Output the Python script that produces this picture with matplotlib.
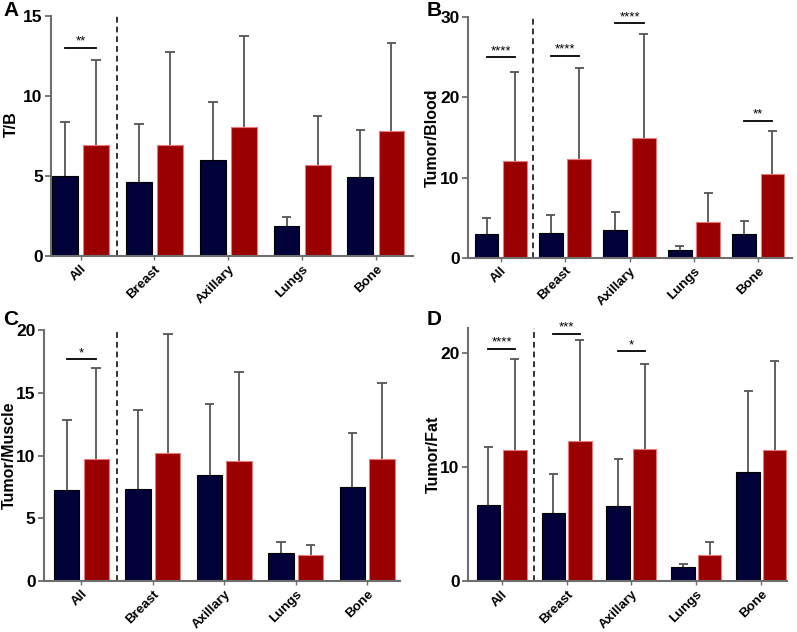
import matplotlib
matplotlib.use("Agg")
import matplotlib.pyplot as plt
import numpy as np

plt.rcParams['font.family'] = ['Liberation Sans', 'DejaVu Sans']

categories = ["All", "Breast", "Axillary", "Lungs", "Bone"]

# Panel A: T/B
a_blue_mean = [5.0, 4.65, 5.98, 1.9, 4.95]
a_blue_sd = [3.35, 3.62, 3.66, 0.56, 2.9]
a_red_mean = [6.9, 6.95, 8.04, 5.67, 7.8]
a_red_sd = [5.35, 5.78, 5.69, 3.06, 5.5]
a_sig = [(0, 13.0, "**")]

# Panel B: Tumor/Blood
b_blue_mean = [3.0, 3.15, 3.52, 1.03, 2.95]
b_blue_sd = [1.94, 2.2, 2.17, 0.5, 1.65]
b_red_mean = [12.04, 12.3, 14.9, 4.52, 10.4]
b_red_sd = [11.16, 11.3, 13.0, 3.53, 5.45]
b_sig = [(0, 25.0, "****"), (1, 25.2, "****"), (2, 29.2, "****"), (4, 17.1, "**")]

# Panel C: Tumor/Muscle
c_blue_mean = [7.25, 7.33, 8.47, 2.26, 7.52]
c_blue_sd = [5.58, 6.3, 5.66, 0.82, 4.3]
c_red_mean = [9.75, 10.22, 9.53, 2.07, 9.7]
c_red_sd = [7.25, 9.46, 7.1, 0.83, 6.08]
c_sig = [(0, 17.7, "*")]

# Panel D: Tumor/Fat
d_blue_mean = [6.64, 5.97, 6.55, 1.25, 9.58]
d_blue_sd = [5.12, 3.4, 4.13, 0.29, 7.1]
d_red_mean = [11.5, 12.29, 11.59, 2.33, 11.5]
d_red_sd = [7.95, 8.87, 7.45, 1.1, 7.83]
d_sig = [(0, 20.4, "****"), (1, 21.7, "***"), (2, 20.15, "*")]

BLUE = "#02023a"
RED = "#9b0000"
SPINE = "#6e6e6e"
ERR = "#555555"

fig = plt.figure(figsize=(7.97, 6.32), dpi=100)

panels = [
    dict(rect=[0.064, 0.595, 0.454, 0.380], bm=a_blue_mean, bs=a_blue_sd, rm=a_red_mean, rs=a_red_sd,
         sig=a_sig, ylabel="T/B", ylim=15, yticks=[0, 5, 10, 15], xlim=(-0.40, 4.5),
         w=0.35, off=0.21, letter="A", lxy=(0.004, 0.984), labx=-0.11, laby=0.55),
    dict(rect=[0.587, 0.592, 0.4065, 0.381], bm=b_blue_mean, bs=b_blue_sd, rm=b_red_mean, rs=b_red_sd,
         sig=b_sig, ylabel="Tumor/Blood", ylim=30, yticks=[0, 10, 20, 30], xlim=(-0.51, 4.52),
         w=0.37, off=0.22, letter="B", lxy=(0.535, 0.984), labx=-0.108, laby=0.5),
    dict(rect=[0.0552, 0.0807, 0.4467, 0.397], bm=c_blue_mean, bs=c_blue_sd, rm=c_red_mean, rs=c_red_sd,
         sig=c_sig, ylabel="Tumor/Muscle", ylim=20, yticks=[0, 5, 10, 15, 20], xlim=(-0.525, 4.46),
         w=0.357, off=0.207, letter="C", lxy=(0.004, 0.495), labx=-0.098, laby=0.5),
    dict(rect=[0.587, 0.0805, 0.400, 0.4005], bm=d_blue_mean, bs=d_blue_sd, rm=d_red_mean, rs=d_red_sd,
         sig=d_sig, ylabel="Tumor/Fat", ylim=22.2, yticks=[0, 10, 20], xlim=(-0.52, 4.39),
         w=0.362, off=0.204, letter="D", lxy=(0.535, 0.495), labx=-0.108, laby=0.5),
]


def upper_errorbars(ax, xs, means, sds, capw):
    means = np.asarray(means)
    tops = means + np.asarray(sds)
    ax.vlines(xs, means, tops, color=ERR, linewidth=1.3, zorder=1)
    ax.hlines(tops, xs - capw, xs + capw, color=ERR, linewidth=1.3, zorder=1)


for p in panels:
    ax = fig.add_axes(p["rect"])
    x = np.arange(len(categories))
    xb = x - p["off"]
    xr = x + p["off"]
    capw = p["w"] * 0.19
    upper_errorbars(ax, xb, p["bm"], p["bs"], capw)
    upper_errorbars(ax, xr, p["rm"], p["rs"], capw)
    ax.bar(xb, p["bm"], width=p["w"], color=BLUE, edgecolor="#000000", linewidth=0.8, zorder=2)
    ax.bar(xr, p["rm"], width=p["w"], color=RED, edgecolor="#e87a7a", linewidth=0.8, zorder=2)
    ax.axvline(0.5, color="#333333", linestyle=(0, (3, 2)), linewidth=1.4, zorder=0)
    for g, yv, s in p["sig"]:
        ax.plot([xb[g], xr[g]], [yv, yv], color="black", linewidth=1.3, zorder=3)
        ax.text((xb[g] + xr[g]) / 2, yv, s, ha="center", va="bottom", fontsize=9.5, zorder=3)
    ax.set_xlim(*p["xlim"])
    ax.set_ylim(0, p["ylim"])
    ax.set_yticks(p["yticks"])
    ax.set_yticklabels([str(t) for t in p["yticks"]], fontsize=12.5, fontweight="bold")
    ax.set_xticks(x)
    ax.set_xticklabels(categories, rotation=45, ha="right", rotation_mode="anchor",
                       fontsize=9.6, fontweight="bold")
    ax.tick_params(axis="y", direction="out", length=4, width=1.3, color=SPINE, pad=2)
    ax.tick_params(axis="x", direction="out", length=3, width=1.0, color=SPINE, pad=2)
    for side in ["top", "right"]:
        ax.spines[side].set_visible(False)
    for side in ["left", "bottom"]:
        ax.spines[side].set_color(SPINE)
        ax.spines[side].set_linewidth(1.5)
    ax.set_ylabel(p["ylabel"], fontsize=11.5, fontweight="bold", va="center")
    ax.yaxis.set_label_coords(p["labx"], p["laby"])
    fig.text(p["lxy"][0], p["lxy"][1], p["letter"], fontsize=15, fontweight="bold", va="center")

fig.savefig("out.png", dpi=100)
